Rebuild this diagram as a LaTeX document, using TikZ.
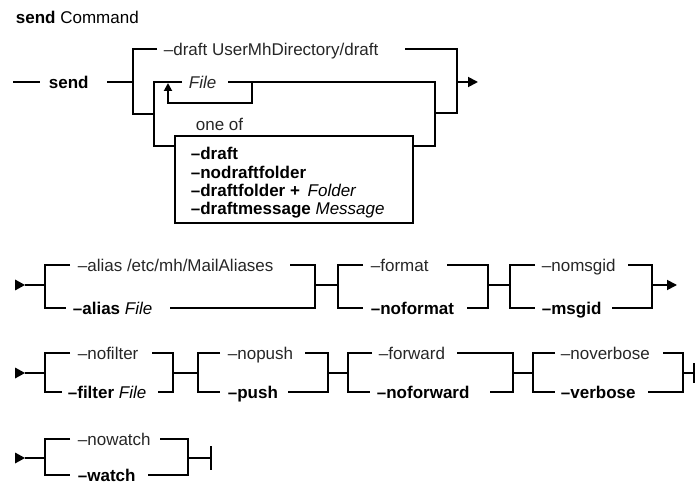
\documentclass[tikz,border=0pt]{standalone}
\usepackage{fontspec}
\setmainfont{Liberation Sans}
\usetikzlibrary{arrows.meta}
\begin{document}
\begin{tikzpicture}[x=1pt,y=-1pt,line width=1.8pt,line join=miter,
  txt/.style={font=\fontsize{17}{20}\selectfont,inner sep=0pt,anchor=west,text height=12.2pt,text depth=0pt,text=black!85},
  bld/.style={font=\fontsize{17}{20}\selectfont\bfseries,inner sep=0pt,anchor=west,text height=12.2pt,text depth=0pt},
  arr/.style={-{Triangle[length=10pt,width=10pt]}},
  uparr/.style={-{Triangle[length=8pt,width=8pt]}},
  startmark/.style={fill=black,draw=none}]
\useasboundingbox (0,0) rectangle (696,486);
% ---------- title ----------
\node[txt,text=black] (title) at (15,17) {{\bfseries send} Command};
% ---------- row 1 ----------
\coordinate (a0) at (13,82);
\coordinate (a1) at (40,82);
\node[bld] (send) at (48,82) {send};
\coordinate (a2) at (107,82);
\coordinate (a3) at (133,82);
\coordinate (a3t) at (133,49);
\coordinate (a3b) at (133,114);
\coordinate (a4) at (154,114);
\coordinate (a4t) at (154,82);
\coordinate (a4b) at (154,146);
\node[txt] (draft) at (163,49) {–draft UserMhDirectory/draft};
\coordinate (d0) at (157,49);
\coordinate (d1) at (405,49);
\coordinate (r1) at (457,49);
\coordinate (r1m) at (457,82);
\coordinate (r1b) at (457,113);
\coordinate (r2b) at (435,113);
\coordinate (r2) at (435,82);
\coordinate (r2box) at (435,146);
\coordinate (end1) at (478,82);
\node[txt,font=\fontsize{17}{20}\selectfont\itshape] (file) at (188,82) {File};
\coordinate (f0) at (182,82);
\coordinate (f1) at (228,82);
\coordinate (lp0) at (252,82);
\coordinate (lp1) at (252,103);
\coordinate (lp2) at (168,103);
\coordinate (lp3) at (168,83);
\node[draw,line width=1.6pt,anchor=north west,inner sep=0pt,minimum width=238pt,minimum height=87pt] (box) at (174,135) {};
\node[txt] (oneof) at (195,124) {one of};
\node[bld] (o1) at (190,153) {–draft};
\node[bld] (o2) at (190,172) {–nodraftfolder};
\node[bld] (o3) at (190,190) {–draftfolder + \hspace{3pt}{\mdseries\itshape Folder}};
\node[bld] (o4) at (190,208) {–draftmessage {\mdseries\itshape Message}};
\draw (a0) -- (a1);
\draw (a2) -- (a3);
\draw (d0) -- (a3t) -- (a3b) -- (a4);
\draw (f0) -- (a4t) -- (a4b) -- (box.west |- a4b);
\draw (d1) -- (r1) -- (r1b) -- (r2b);
\draw[arr] (r1m) -- (end1);
\draw (f1) -- (r2) -- (r2box) -- (box.east |- r2box);
\draw[uparr] (lp0) -- (lp1) -- (lp2) -- (lp3);
% ---------- row 2 ----------
\coordinate (b0) at (25,285);
\coordinate (bA) at (45,285);
\fill[startmark] (b0) -- ++(-10,-5.5) -- ++(0,11) -- cycle;
\draw (b0) -- (bA);
\node[txt] (alias1) at (77,265) {–alias /etc/mh/MailAliases};
\node[bld] (alias2) at (72,308) {–alias {\mdseries\itshape File}};
\draw (70,265) coordinate (A1) -- (45,265) coordinate (A2) -- (45,308) coordinate (A3) -- (66,308) coordinate (A4);
\draw (290,265) coordinate (A5) -- (315,265) coordinate (A6) -- (315,308) coordinate (A7) -- (170,308) coordinate (A8);
\coordinate (jA) at (315,285);
\coordinate (jB) at (338,285);
\draw (jA) -- (jB);
\node[txt] (format) at (370,265) {–format};
\node[bld] (noformat) at (370,308) {–noformat};
\draw (363,265) coordinate (B1) -- (338,265) coordinate (B2) -- (338,308) coordinate (B3) -- (363,308) coordinate (B4);
\draw (447,265) coordinate (B5) -- (488,265) coordinate (B6) -- (488,308) coordinate (B7) -- (467,308) coordinate (B8);
\coordinate (jB2) at (488,285);
\coordinate (jC) at (510,285);
\draw (jB2) -- (jC);
\node[txt] (nomsgid) at (541,265) {–nomsgid};
\node[bld] (msgid) at (541,308) {–msgid};
\draw (535,265) coordinate (C1) -- (510,265) coordinate (C2) -- (510,308) coordinate (C3) -- (535,308) coordinate (C4);
\draw (628,265) coordinate (C5) -- (652,265) coordinate (C6) -- (652,308) coordinate (C7) -- (612,308) coordinate (C8);
\coordinate (jC2) at (652,285);
\coordinate (end2) at (677,285);
\draw[arr] (jC2) -- (end2);
% ---------- row 3 ----------
\coordinate (c0) at (25,373);
\coordinate (cD) at (45,373);
\fill[startmark] (c0) -- ++(-10,-5.5) -- ++(0,11) -- cycle;
\draw (c0) -- (cD);
\node[txt] (nofilter) at (77,353) {–nofilter};
\node[bld] (filter) at (67,392) {–filter {\mdseries\itshape File}};
\draw (70,353) coordinate (D1) -- (45,353) coordinate (D2) -- (45,392) coordinate (D3) -- (62,392) coordinate (D4);
\draw (152,353) coordinate (D5) -- (173,353) coordinate (D6) -- (173,392) coordinate (D7) -- (158,392) coordinate (D8);
\coordinate (jD) at (173,373);
\coordinate (jE) at (198,373);
\draw (jD) -- (jE);
\node[txt] (nopush) at (227,353) {–nopush};
\node[bld] (push) at (227,392) {–push};
\draw (220,353) coordinate (E1) -- (198,353) coordinate (E2) -- (198,392) coordinate (E3) -- (220,392) coordinate (E4);
\draw (305,353) coordinate (E5) -- (328,353) coordinate (E6) -- (328,392) coordinate (E7) -- (288,392) coordinate (E8);
\coordinate (jE2) at (328,373);
\coordinate (jF) at (348,373);
\draw (jE2) -- (jF);
\node[txt] (forward) at (378,353) {–forward};
\node[bld] (noforward) at (376,392) {–noforward};
\draw (372,353) coordinate (F1) -- (348,353) coordinate (F2) -- (348,392) coordinate (F3) -- (370,392) coordinate (F4);
\draw (457,353) coordinate (F5) -- (513,353) coordinate (F6) -- (513,392) coordinate (F7) -- (490,392) coordinate (F8);
\coordinate (jF2) at (513,373);
\coordinate (jG) at (533,373);
\draw (jF2) -- (jG);
\node[txt] (noverbose) at (560,353) {–noverbose};
\node[bld] (verbose) at (560,392) {–verbose};
\draw (555,353) coordinate (G1) -- (533,353) coordinate (G2) -- (533,392) coordinate (G3) -- (555,392) coordinate (G4);
\draw (663,353) coordinate (G5) -- (683,353) coordinate (G6) -- (683,392) coordinate (G7) -- (648,392) coordinate (G8);
\coordinate (jG2) at (683,373);
\coordinate (jEnd3) at (694,373);
\draw (jG2) -- (jEnd3);
\draw (694,363) coordinate (t3a) -- (694,383) coordinate (t3b);
% ---------- row 4 ----------
\coordinate (e0) at (25,458);
\coordinate (eH) at (45,458);
\fill[startmark] (e0) -- ++(-10,-5.5) -- ++(0,11) -- cycle;
\draw (e0) -- (eH);
\node[txt] (nowatch) at (77,439) {–nowatch};
\node[bld] (watch) at (77,475) {–watch};
\draw (70,439) coordinate (H1) -- (45,439) coordinate (H2) -- (45,475) coordinate (H3) -- (70,475) coordinate (H4);
\draw (160,439) coordinate (H5) -- (188,439) coordinate (H6) -- (188,475) coordinate (H7) -- (148,475) coordinate (H8);
\coordinate (jH) at (188,458);
\coordinate (jEnd) at (211,458);
\draw (jH) -- (jEnd);
\draw (211,446) coordinate (t4a) -- (211,470) coordinate (t4b);
\end{tikzpicture}
\end{document}
